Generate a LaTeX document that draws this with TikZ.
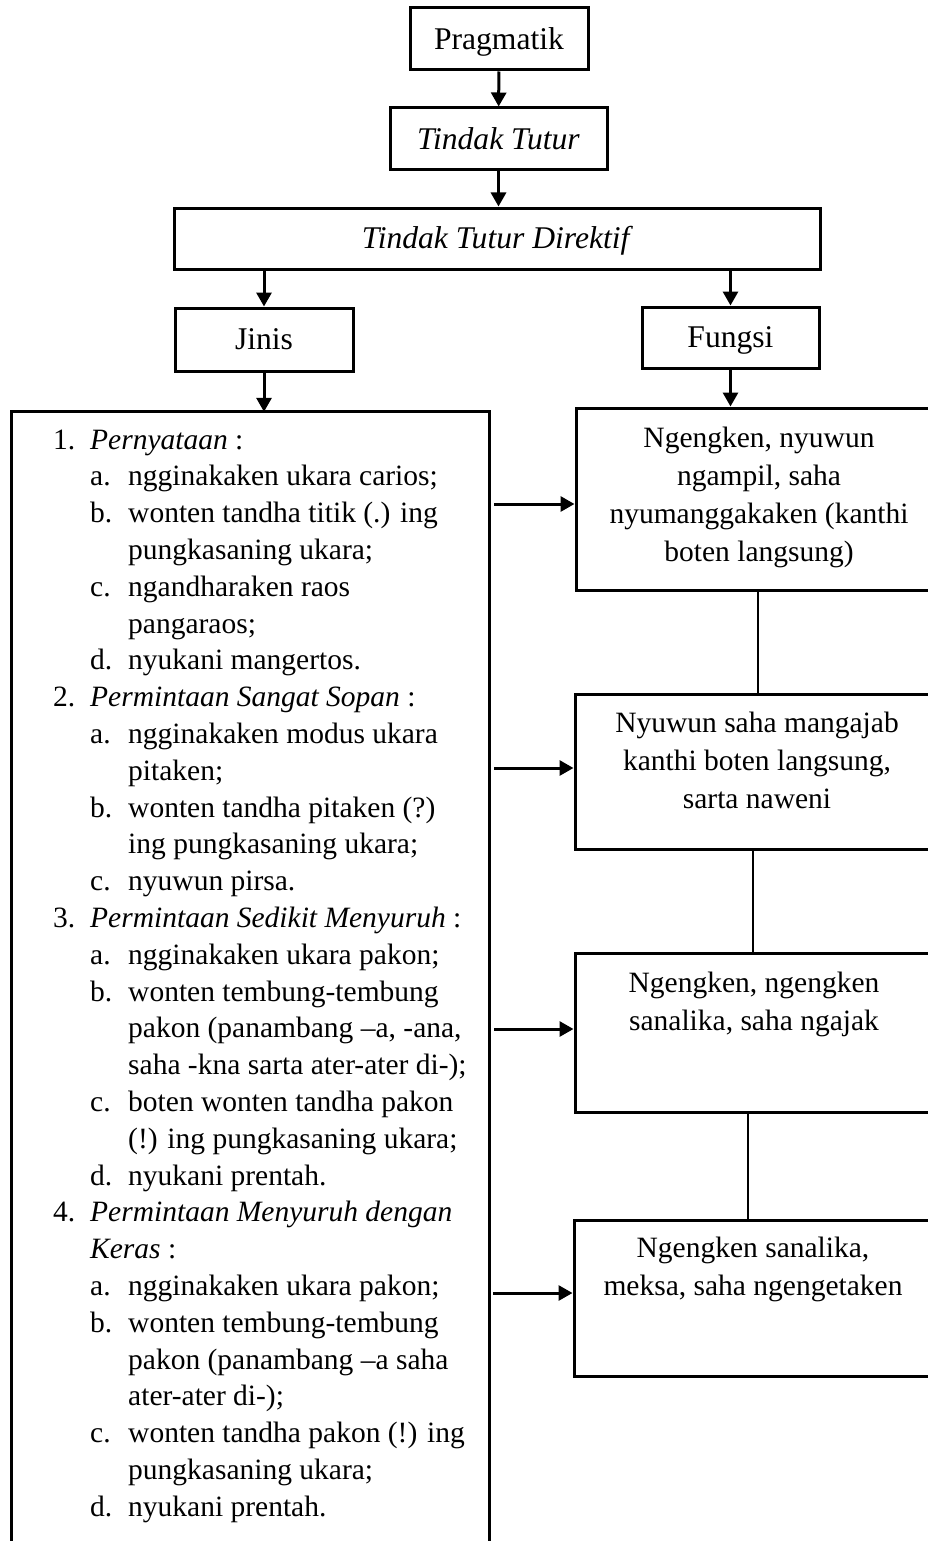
\documentclass[tikz,border=0pt]{standalone}
\usepackage{fontspec}
\setmainfont{Liberation Serif}
\usetikzlibrary{arrows.meta}
\newcommand\fsz{\fontsize{29.5}{36}\selectfont}
\newcommand\fbig{\fontsize{31.6}{38}\selectfont}
\newcommand\ListTop[3]{\node[lt] (lab#1) at (53,{449+(#1-1)*36.8}) {#2};\node[lt] (txt#1) at (90,{449+(#1-1)*36.8}) {#3};}
\newcommand\ListSub[3]{\node[lt] (lab#1) at (90,{449+(#1-1)*36.8}) {#2};\node[lt] (txt#1) at (128,{449+(#1-1)*36.8}) {#3};}
\newcommand\ListCont[2]{\node[lt] (txt#1) at (128,{449+(#1-1)*36.8}) {#2};}
\newcommand\ListTopCont[2]{\node[lt] (txt#1) at (90,{449+(#1-1)*36.8}) {#2};}
\begin{document}
\begin{tikzpicture}[x=1pt,y=-1pt,
  bx/.style={draw, line width=3pt, inner sep=0pt, font=\fbig, text height=20.9pt, text depth=0pt},
  lt/.style={anchor=base west, inner sep=0pt, font=\fsz},
  ct/.style={anchor=base, inner sep=0pt, font=\fsz},
  arr/.style={line width=3pt, -{Triangle[length=14pt,width=15pt]}},
  thinln/.style={line width=1.2pt}]
\useasboundingbox (0,0) rectangle (928,1541);
\clip (0,0) rectangle (928,1541);
% top boxes
\node[bx, minimum width=178, minimum height=62] (prag) at (499,39) {Pragmatik};
\node[bx, minimum width=217, minimum height=62] (tt) at (498.5,139) {\textit{Tindak Tutur}};
\node[bx, minimum width=646, minimum height=61] (ttd) at (497.5,238.5) {\textit{Tindak Tutur Direktif}};
\node[bx, minimum width=178, minimum height=63] (jinis) at (264,339.5) {Jinis};
\node[bx, minimum width=177, minimum height=61] (fungsi) at (730.5,337.5) {Fungsi};
% left (open) box
\node[minimum width=477, minimum height=1160, inner sep=0pt] (jbox) at (250.5,992) {};
\draw[line width=3pt] (jbox.south west) -- (jbox.north west) -- (jbox.north east) -- (jbox.south east);
% right boxes
\node[bx, minimum width=366, minimum height=182] (f1) at (759,499) {};
\node[bx, minimum width=366, minimum height=155] (f2) at (758,771.5) {};
\node[bx, minimum width=366, minimum height=159] (f3) at (758,1032.5) {};
\node[bx, minimum width=366, minimum height=156] (f4) at (757,1298) {};
% vertical arrows
\draw[arr] (prag) -- (tt);
\draw[arr] (tt.south) -- (tt.south |- ttd.north);
\draw[arr] (jinis.north |- ttd.south) -- (jinis.north);
\draw[arr] (fungsi.north |- ttd.south) -- (fungsi.north);
\draw[arr] (jinis.south) -- (jinis.south |- jbox.north);
\draw[arr] (fungsi.south) -- (fungsi.south |- f1.north);
% thin connectors between right boxes
\coordinate (v1) at (758,600);
\coordinate (v2) at (753,900);
\coordinate (v3) at (748,1150);
\draw[thinln] (v1 |- f1.south) -- (v1 |- f2.north);
\draw[thinln] (v2 |- f2.south) -- (v2 |- f3.north);
\draw[thinln] (v3 |- f3.south) -- (v3 |- f4.north);
% horizontal arrows
\coordinate (h1) at (494,504);
\coordinate (h2) at (494,768);
\coordinate (h3) at (494,1029);
\coordinate (h4) at (493,1293);
\draw[arr] (h1) -- (h1 -| f1.west);
\draw[arr] (h2) -- (h2 -| f2.west);
\draw[arr] (h3) -- (h3 -| f3.west);
\draw[arr] (h4) -- (h4 -| f4.west);
% right box texts
\foreach \t [count=\i] in {{Ngengken, nyuwun},{ngampil, saha},{nyumanggakaken (kanthi},{boten langsung)}}
  \node[ct] (fa\i) at (759,{447+(\i-1)*38.3}) {\t};
\foreach \t [count=\i] in {{Nyuwun saha mangajab},{kanthi boten langsung,},{sarta naweni}}
  \node[ct] (fb\i) at (757,{732+(\i-1)*38.3}) {\t};
\foreach \t [count=\i] in {{Ngengken, ngengken},{sanalika, saha ngajak}}
  \node[ct] (fc\i) at (754,{992+(\i-1)*38.3}) {\t};
\foreach \t [count=\i] in {{Ngengken sanalika,},{meksa, saha ngengetaken}}
  \node[ct] (fd\i) at (753,{1257+(\i-1)*38.3}) {\t};
% left list
\ListTop{1}{1.}{\textit{Pernyataan} :}
\ListSub{2}{a.}{ngginakaken ukara carios;}
\ListSub{3}{b.}{wonten tandha titik (.) ing}
\ListCont{4}{pungkasaning ukara;}
\ListSub{5}{c.}{ngandharaken raos}
\ListCont{6}{pangaraos;}
\ListSub{7}{d.}{nyukani mangertos.}
\ListTop{8}{2.}{\textit{Permintaan Sangat Sopan} :}
\ListSub{9}{a.}{ngginakaken modus ukara}
\ListCont{10}{pitaken;}
\ListSub{11}{b.}{wonten tandha pitaken (?)}
\ListCont{12}{ing pungkasaning ukara;}
\ListSub{13}{c.}{nyuwun pirsa.}
\ListTop{14}{3.}{\textit{Permintaan Sedikit Menyuruh} :}
\ListSub{15}{a.}{ngginakaken ukara pakon;}
\ListSub{16}{b.}{wonten tembung-tembung}
\ListCont{17}{pakon (panambang –a, -ana,}
\ListCont{18}{saha -kna sarta ater-ater di-);}
\ListSub{19}{c.}{boten wonten tandha pakon}
\ListCont{20}{(!) ing pungkasaning ukara;}
\ListSub{21}{d.}{nyukani prentah.}
\ListTop{22}{4.}{\textit{Permintaan Menyuruh dengan}}
\ListTopCont{23}{\textit{Keras} :}
\ListSub{24}{a.}{ngginakaken ukara pakon;}
\ListSub{25}{b.}{wonten tembung-tembung}
\ListCont{26}{pakon (panambang –a saha}
\ListCont{27}{ater-ater di-);}
\ListSub{28}{c.}{wonten tandha pakon (!) ing}
\ListCont{29}{pungkasaning ukara;}
\ListSub{30}{d.}{nyukani prentah.}
\end{tikzpicture}
\end{document}
